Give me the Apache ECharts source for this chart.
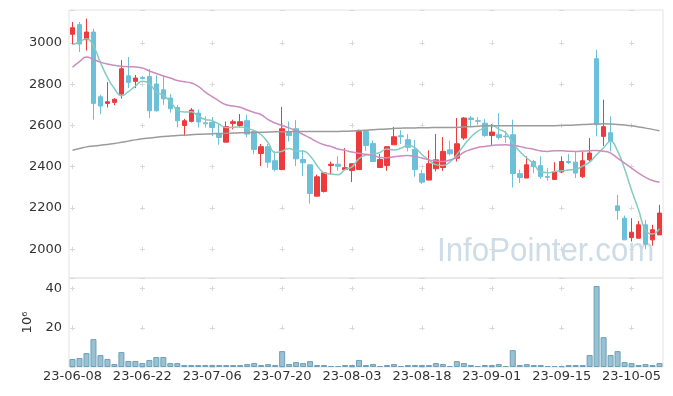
<!DOCTYPE html>
<html><head><meta charset="utf-8">
<script src="https://cdn.jsdelivr.net/npm/echarts@6/dist/echarts.min.js"></script>
<style>html,body{margin:0;padding:0;background:#fff}#c{width:673px;height:396px}</style>
</head><body><div id="c"></div>
<script>
const dates = ['23-06-08','23-06-09','23-06-12','23-06-13','23-06-14','23-06-15','23-06-16','23-06-19','23-06-20','23-06-21','23-06-22','23-06-23','23-06-26','23-06-27','23-06-28','23-06-29','23-06-30','23-07-03','23-07-04','23-07-05','23-07-06','23-07-07','23-07-10','23-07-11','23-07-12','23-07-13','23-07-14','23-07-17','23-07-18','23-07-19','23-07-20','23-07-21','23-07-24','23-07-25','23-07-26','23-07-27','23-07-28','23-07-31','23-08-01','23-08-02','23-08-03','23-08-04','23-08-07','23-08-08','23-08-09','23-08-10','23-08-11','23-08-14','23-08-16','23-08-17','23-08-18','23-08-21','23-08-22','23-08-23','23-08-24','23-08-25','23-08-28','23-08-29','23-08-30','23-08-31','23-09-01','23-09-04','23-09-05','23-09-06','23-09-07','23-09-08','23-09-11','23-09-12','23-09-13','23-09-14','23-09-15','23-09-18','23-09-19','23-09-20','23-09-21','23-09-22','23-09-25','23-09-26','23-09-27','23-10-04','23-10-05','23-10-06','23-10-10','23-10-11','23-10-12'];
const opens = [3042,3089,3016,3053,2739,2707,2712,2752,2841,2814,2833,2838,2801,2773,2733,2687,2600,2620,2660,2613,2615,2558,2519,2610,2600,2623,2571,2464,2497,2429,2386,2571,2584,2435,2409,2257,2280,2406,2412,2386,2382,2386,2571,2513,2396,2406,2506,2550,2531,2484,2366,2335,2390,2396,2482,2441,2539,2636,2623,2611,2551,2555,2548,2555,2366,2345,2425,2405,2352,2338,2374,2425,2422,2351,2433,2924,2547,2565,2210,2150,2056,2053,2118,2045,2069];
const closes = [3074,2995,3053,2707,2694,2715,2727,2875,2809,2830,2828,2671,2671,2729,2681,2623,2623,2675,2617,2608,2590,2542,2595,2618,2618,2558,2484,2497,2422,2386,2584,2551,2438,2419,2270,2351,2370,2412,2402,2395,2414,2570,2503,2425,2435,2497,2545,2545,2494,2386,2325,2414,2433,2474,2463,2511,2636,2629,2620,2551,2568,2542,2545,2367,2348,2409,2400,2352,2348,2374,2425,2420,2369,2429,2466,2604,2594,2522,2187,2045,2082,2118,2024,2094,2175];
const lows = [2995,2956,2963,2628,2655,2687,2698,2730,2781,2781,2823,2636,2667,2700,2662,2590,2549,2615,2590,2590,2549,2506,2519,2581,2590,2542,2461,2403,2395,2377,2386,2522,2403,2354,2221,2257,2275,2361,2380,2386,2325,2386,2477,2425,2396,2380,2506,2510,2474,2351,2316,2335,2377,2380,2454,2425,2530,2595,2604,2545,2500,2531,2515,2299,2320,2345,2369,2341,2333,2338,2369,2413,2345,2345,2425,2547,2500,2474,2142,2045,2037,2053,2001,2017,2069];
const highs = [3102,3102,3118,3069,2749,2811,2732,2917,2932,2845,2840,2874,2843,2843,2752,2700,2632,2684,2678,2644,2641,2607,2619,2628,2655,2652,2579,2510,2510,2474,2690,2619,2626,2480,2409,2361,2370,2425,2450,2490,2414,2580,2571,2526,2461,2497,2593,2577,2558,2530,2385,2479,2558,2544,2526,2636,2640,2646,2640,2632,2607,2660,2574,2628,2385,2450,2433,2450,2393,2422,2450,2461,2474,2474,2539,2967,2725,2644,2263,2163,2150,2137,2142,2118,2215];
const ma5 = [2992,3005,3020,2985,2905,2833,2779,2744,2764,2791,2814,2803,2762,2746,2716,2675,2665,2666,2644,2629,2623,2606,2590,2591,2593,2586,2575,2555,2516,2469,2475,2488,2476,2476,2452,2406,2370,2364,2361,2386,2399,2439,2457,2461,2469,2486,2481,2489,2503,2493,2459,2433,2410,2406,2422,2459,2503,2543,2572,2589,2601,2582,2565,2515,2474,2442,2414,2375,2371,2377,2380,2384,2387,2403,2422,2458,2492,2523,2475,2390,2286,2191,2091,2073,2099];
const ma20 = [2882,2910,2932,2920,2907,2898,2892,2887,2885,2883,2879,2864,2852,2840,2830,2818,2812,2806,2790,2762,2740,2718,2700,2694,2688,2675,2663,2652,2628,2612,2600,2588,2574,2556,2539,2520,2506,2498,2486,2479,2471,2465,2460,2455,2445,2443,2448,2452,2454,2450,2442,2433,2428,2425,2432,2445,2470,2483,2493,2498,2503,2505,2506,2503,2498,2490,2485,2476,2474,2477,2477,2475,2474,2476,2477,2479,2475,2466,2441,2417,2393,2369,2348,2333,2325];
const ma60 = [2480,2488,2496,2500,2504,2508,2512,2518,2524,2530,2535,2539,2543,2546,2549,2551,2553,2555,2557,2558,2560,2561,2562,2563,2564,2565,2566,2567,2568,2569,2570,2570,2571,2571,2571,2571,2571,2571,2571,2572,2573,2575,2577,2579,2581,2583,2585,2587,2588,2588,2589,2589,2590,2590,2590,2591,2592,2594,2596,2598,2599,2599,2599,2599,2599,2599,2599,2599,2599,2599,2600,2601,2602,2604,2606,2607,2608,2607,2605,2602,2598,2593,2587,2581,2574];
const volumes = [4.1,4.6,7.1,14.2,6.1,4.1,1.5,7.6,3.1,3.1,2.0,3.6,5.1,5.1,2.0,2.0,1.0,1.0,1.0,1.0,1.0,1.0,1.0,1.0,1.0,1.5,2.0,1.0,1.5,1.0,8.1,1.5,2.5,2.0,3.0,1.0,1.0,0.5,0.5,1.0,1.0,3.6,1.0,1.5,0.5,1.0,1.5,0.5,1.0,1.0,1.0,1.0,2.0,1.5,0.5,3.0,2.0,1.0,0.5,1.0,1.0,1.5,0.5,8.6,1.0,1.5,1.0,1.0,0.5,0.5,0.5,1.0,1.0,1.0,6.1,41.3,15.2,6.1,8.1,2.5,2.0,1.0,1.5,1.0,2.0];
const volumeUnit = '10\u2076';
const watermark = 'InfoPointer.com';

const candles = dates.map((d, i) => [opens[i], closes[i], lows[i], highs[i]]);
const FONT = 'DejaVu Sans';
const crossColor = '#d9d9d9';
const plain = v => String(v);

const chart = echarts.init(document.getElementById('c'), null, {renderer: 'canvas'});
chart.setOption({
  animation: false,
  textStyle: {fontFamily: FONT},
  grid: [
    {left: 69, top: 10, width: 594, height: 268, show: true, borderColor: '#e3e3e3', borderWidth: 1},
    {left: 69, top: 278, width: 594, height: 89, show: true, borderColor: '#e3e3e3', borderWidth: 1}
  ],
  xAxis: [
    {type: 'category', gridIndex: 0, data: dates, boundaryGap: true,
     axisLine: {show: false}, axisTick: {show: false}, axisLabel: {show: false},
     splitLine: {show: true, interval: 9, alignWithLabel: true,
       lineStyle: {color: crossColor, width: 1, type: [5, 36.23], dashOffset: 10.7}}},
    {type: 'category', gridIndex: 1, data: dates, boundaryGap: true,
     axisLine: {show: false}, axisTick: {show: false},
     axisLabel: {interval: 9, color: '#333', fontSize: 13, margin: 3, fontFamily: FONT},
     splitLine: {show: true, interval: 9, alignWithLabel: true,
       lineStyle: {color: crossColor, width: 1, type: [5, 34.2], dashOffset: 31.1}}}
  ],
  yAxis: [
    {type: 'value', gridIndex: 0, min: 1860, max: 3160, splitNumber: 6, scale: true,
     axisLine: {show: false}, axisTick: {show: false},
     axisLabel: {color: '#333', fontSize: 13, margin: 7, formatter: plain, showMinLabel: false, showMaxLabel: false, fontFamily: FONT},
     splitLine: {show: true, lineStyle: {color: crossColor, width: 1, type: [5, 64.9], dashOffset: 68.9}}},
    {type: 'value', gridIndex: 1, min: 0, max: 45.4, splitNumber: 2,
     name: volumeUnit, nameLocation: 'middle', nameRotate: 90, nameGap: 26,
     nameTextStyle: {color: '#333', fontSize: 13, fontFamily: FONT},
     axisLine: {show: false}, axisTick: {show: false},
     axisLabel: {color: '#333', fontSize: 13, margin: 7, formatter: plain, showMinLabel: false, showMaxLabel: false, fontFamily: FONT},
     splitLine: {show: true, lineStyle: {color: crossColor, width: 1, type: [5, 64.9], dashOffset: 68.9}}}
  ],
  graphic: [
    {type: 'text', left: 437, top: 235, z: 0, silent: true, scaleX: 0.92,
     style: {text: watermark, fontSize: 34, fontFamily: 'Liberation Sans', fill: '#cddce7'}}
  ],
  series: [
    {type: 'candlestick', xAxisIndex: 0, yAxisIndex: 0, data: candles, barWidth: '72%', z: 3,
     itemStyle: {color: '#ec3a3d', color0: '#6dc0d9', borderColor: '#ec3a3d', borderColor0: '#6dc0d9', borderWidth: 1}},
    {type: 'line', xAxisIndex: 0, yAxisIndex: 0, data: ma5, smooth: true, showSymbol: false, z: 4,
     lineStyle: {color: '#84ccc0', width: 1.5}},
    {type: 'line', xAxisIndex: 0, yAxisIndex: 0, data: ma20, smooth: true, showSymbol: false, z: 4,
     lineStyle: {color: '#cc8cc0', width: 1.5}},
    {type: 'line', xAxisIndex: 0, yAxisIndex: 0, data: ma60, smooth: true, showSymbol: false, z: 4,
     lineStyle: {color: '#9b9b9b', width: 1.5}},
    {type: 'bar', xAxisIndex: 1, yAxisIndex: 1, data: volumes, barWidth: '86%',
     itemStyle: {color: '#98c1d3', borderColor: '#6f9fb7', borderWidth: 1}}
  ]
});
</script></body></html>
